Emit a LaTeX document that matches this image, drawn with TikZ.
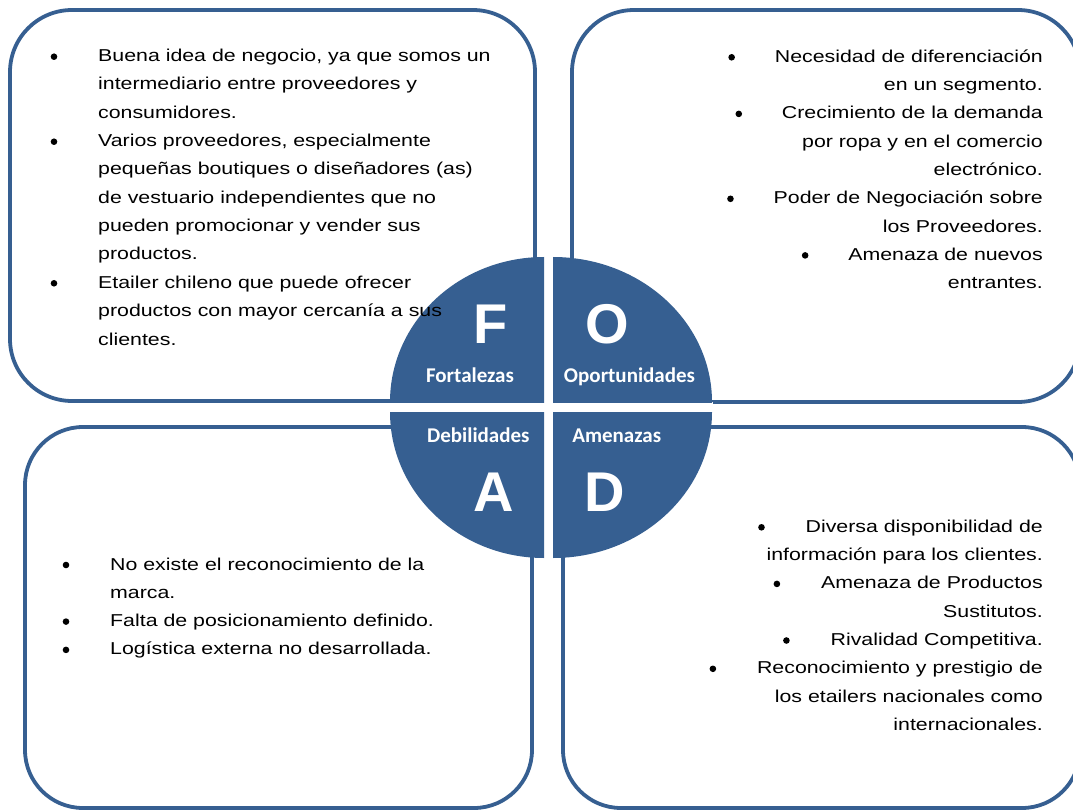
\documentclass[tikz,border=0pt]{standalone}
\usepackage{fontspec}
\newfontfamily\bodyfont[FakeStretch=1.24]{Liberation Sans}
\newfontfamily\lblfont{Carlito}
\newfontfamily\bigfont{Liberation Sans}
\definecolor{swotblue}{HTML}{365F91}
\begin{document}
\begin{tikzpicture}[x=1pt,y=-1pt,
  box/.style={draw=swotblue, line width=3.8pt, rounded corners=62pt},
  quad/.style={fill=swotblue},
  txt/.style={font=\bodyfont\fontsize{17.2}{28.3}\selectfont, inner sep=0pt, text=black},
  lft/.style={txt, anchor=base west},
  rgt/.style={txt, anchor=base east},
  bigletter/.style={font=\bigfont\bfseries\fontsize{56}{60}\selectfont, text=white, inner sep=0pt, anchor=base},
  lbl/.style={font=\lblfont\bfseries\fontsize{21}{24}\selectfont, text=white, inner sep=0pt, anchor=base},
  bul/.style={fill=black}]
\useasboundingbox (0,0) rectangle (1073,810);
\clip (0,0) rectangle (1073,810);
% boxes
\draw[box] (10,10) rectangle (535,401);
\draw[box] (572,10) rectangle (1080,402);
\draw[box, rounded corners=58pt] (25,427) rectangle (532,808);
\draw[box, rounded corners=58pt] (563,427) rectangle (1080,808);
% gap between the quadrants
\fill[white] (390,402) rectangle (713,412);
% quadrants
\begin{scope}\clip (544,402) rectangle (380,240);
\fill[quad] (544,402) ellipse [x radius=154pt, y radius=145pt];\end{scope}
\begin{scope}\clip (553,402) rectangle (720,240);
\fill[quad] (553,402) ellipse [x radius=159pt, y radius=145pt];\end{scope}
\begin{scope}\clip (544,412) rectangle (380,570);
\fill[quad] (544,412) ellipse [x radius=154pt, y radius=146pt];\end{scope}
\begin{scope}\clip (553,412) rectangle (720,570);
\fill[quad] (553,412) ellipse [x radius=159pt, y radius=146pt];\end{scope}
% quadrant letters and labels
\node[bigletter] (F) at (491,343) {F};
\node[bigletter] (O) at (607,343) {O};
\node[bigletter] (A) at (493.5,511) {A};
\node[bigletter] (D) at (605,511) {D};
\node[lbl] (lF) at (470,382.7) {Fortalezas};
\node[lbl] (lO) at (629.5,382.7) {Oportunidades};
\node[lbl] (lA) at (478.3,442.7) {Debilidades};
\node[lbl] (lD) at (616.7,442.7) {Amenazas};
% top-left text
\node[lft] (tl1) at (98,61.7) {Buena idea de negocio, ya que somos un};
\node[lft] (tl2) at (98,90.0) {intermediario entre proveedores y};
\node[lft] (tl3) at (98,118.3) {consumidores.};
\node[lft] (tl4) at (98,146.7) {Varios proveedores, especialmente};
\node[lft] (tl5) at (98,175.0) {pequeñas boutiques o diseñadores (as)};
\node[lft] (tl6) at (98,203.3) {de vestuario independientes que no};
\node[lft] (tl7) at (98,231.7) {pueden promocionar y vender sus};
\node[lft] (tl8) at (98,260.0) {productos.};
\node[lft] (tl9) at (98,288.3) {Etailer chileno que puede ofrecer};
\node[lft] (tl10) at (98,316.7) {productos con mayor cercanía a sus};
\node[lft] (tl11) at (98,345.0) {clientes.};
\foreach \n in {tl1,tl4,tl9} \fill[bul] ([xshift=-44pt,yshift=5pt]\n.base west) circle (3.3);
% top-right text
\node[rgt] (tr1) at (1043,62.3) {Necesidad de diferenciación};
\node[rgt] (tr2) at (1043,90.6) {en un segmento.};
\node[rgt] (tr3) at (1043,118.9) {Crecimiento de la demanda};
\node[rgt] (tr4) at (1043,147.2) {por ropa y en el comercio};
\node[rgt] (tr5) at (1043,175.5) {electrónico.};
\node[rgt] (tr6) at (1043,203.8) {Poder de Negociación sobre};
\node[rgt] (tr7) at (1043,232.1) {los Proveedores.};
\node[rgt] (tr8) at (1043,260.4) {Amenaza de nuevos};
\node[rgt] (tr9) at (1043,288.7) {entrantes.};
\foreach \n in {tr1,tr3,tr6,tr8} \fill[bul] ([xshift=-43pt,yshift=5pt]\n.base west) circle (3.3);
% bottom-left text
\node[lft] (bl1) at (110,570) {No existe el reconocimiento de la};
\node[lft] (bl2) at (110,598.3) {marca.};
\node[lft] (bl3) at (110,626.6) {Falta de posicionamiento definido.};
\node[lft] (bl4) at (110,654.9) {Logística externa no desarrollada.};
\foreach \n in {bl1,bl3,bl4} \fill[bul] ([xshift=-44pt,yshift=5pt]\n.base west) circle (3.3);
% bottom-right text
\node[rgt] (br1) at (1043,532.3) {Diversa disponibilidad de};
\node[rgt] (br2) at (1043,560.6) {información para los clientes.};
\node[rgt] (br3) at (1043,588.9) {Amenaza de Productos};
\node[rgt] (br4) at (1043,617.2) {Sustitutos.};
\node[rgt] (br5) at (1043,645.5) {Rivalidad Competitiva.};
\node[rgt] (br6) at (1043,673.8) {Reconocimiento y prestigio de};
\node[rgt] (br7) at (1043,702.1) {los etailers nacionales como};
\node[rgt] (br8) at (1043,730.4) {internacionales.};
\foreach \n in {br1,br3,br5,br6} \fill[bul] ([xshift=-44pt,yshift=5pt]\n.base west) circle (3.3);
\end{tikzpicture}
\end{document}
